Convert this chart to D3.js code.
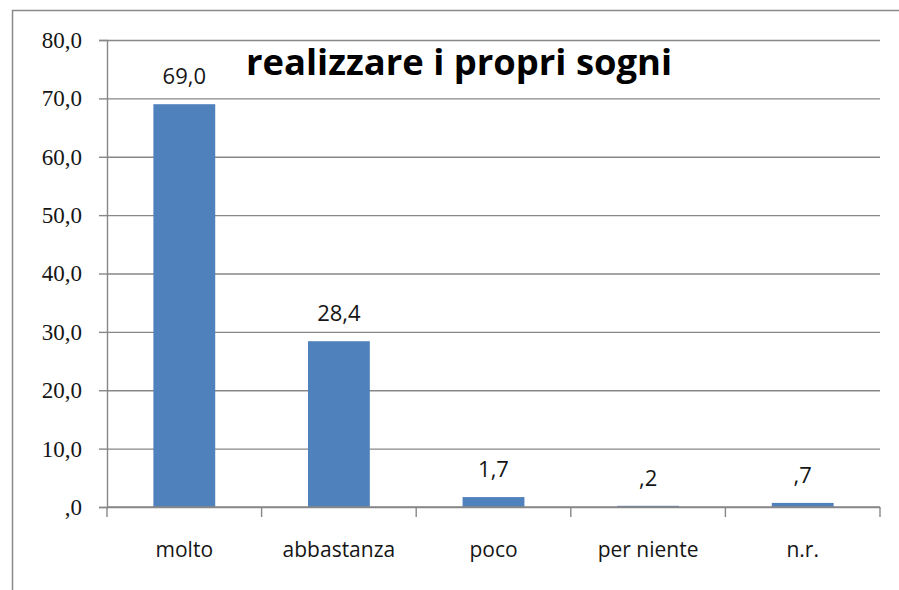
<!DOCTYPE html>
<html>
<head>
<meta charset="utf-8">
<script src="https://cdn.jsdelivr.net/npm/d3@7"></script>
<style>
  html, body { margin: 0; padding: 0; background: #fff; }
  svg { display: block; }
</style>
</head>
<body>
<div id="viz_container"></div>
<script>
// chart data
const categories = ["molto", "abbastanza", "poco", "per niente", "n.r."];
const values = [69.0, 28.4, 1.7, 0.2, 0.7];
const yTicks = [0, 10, 20, 30, 40, 50, 60, 70, 80];
const chartTitle = "realizzare i propri sogni";

// dimensions
const W = 899, H = 590;
const plot = { left: 107, right: 880, top: 40, bottom: 507 };

// italian style number, leading zero dropped (",2")
const fmt = d => d3.format(".1f")(d).replace(".", ",").replace(/^0,/, ",");

const svg = d3.select("#viz_container")
    .append("svg")
    .attr("width", W)
    .attr("height", H);

// outer frame
svg.append("rect")
    .attr("x", 12.5)
    .attr("y", 10.5)
    .attr("width", W + 20)
    .attr("height", H + 20)
    .attr("fill", "#fff")
    .attr("stroke", "#8a8a8a")
    .attr("stroke-width", 1.5);

// scales
const x = d3.scaleBand()
    .domain(categories)
    .range([plot.left, plot.right])
    .paddingInner(0.6)
    .paddingOuter(0.3);

const y = d3.scaleLinear()
    .domain([0, 80])
    .range([plot.bottom, plot.top]);

// gridlines + y axis
svg.append("g")
    .attr("transform", `translate(${plot.left}, 0)`)
    .call(d3.axisLeft(y).tickValues(yTicks).tickSize(plot.left - plot.right).tickFormat(""))
    .call(g => g.select(".domain").remove())
    .call(g => g.selectAll(".tick line").attr("stroke", "#878787").attr("stroke-width", 1.4));

svg.append("g")
    .attr("transform", `translate(${plot.left}, 0)`)
    .call(d3.axisLeft(y).tickValues(yTicks).tickSize(8).tickPadding(17).tickFormat(fmt))
    .call(g => g.select(".domain").attr("stroke", "#878787").attr("stroke-width", 1.4))
    .call(g => g.selectAll(".tick line").attr("stroke", "#878787").attr("stroke-width", 1.4))
    .call(g => g.selectAll(".tick text")
        .attr("fill", "#151515")
        .style("font-family", "'Liberation Serif', serif")
        .style("font-size", "23px"));

// bars
svg.append("g")
    .selectAll("rect")
    .data(values)
    .join("rect")
    .attr("x", (d, i) => x(categories[i]))
    .attr("y", d => y(d))
    .attr("width", x.bandwidth())
    .attr("height", d => y(0) - y(d))
    .attr("fill", "#4f81bd");

// x axis line
const step = x.step();
svg.append("g")
    .attr("transform", `translate(0, ${plot.bottom})`)
    .call(d3.axisBottom(x).tickSize(0).tickPadding(0).tickFormat(""))
    .call(g => g.select(".domain").attr("d", `M${plot.left},0H${plot.right}`)
        .attr("stroke", "#878787").attr("stroke-width", 1.4));

// x ticks at category boundaries
const boundaries = categories.map(c => x(c) - step * 0.3).concat([plot.right]);
svg.append("g")
    .selectAll("line")
    .data(boundaries)
    .join("line")
    .attr("x1", d => d)
    .attr("x2", d => d)
    .attr("y1", plot.bottom)
    .attr("y2", plot.bottom + 10)
    .attr("stroke", "#878787")
    .attr("stroke-width", 1.4);

// category labels
svg.append("g")
    .selectAll("text")
    .data(categories)
    .join("text")
    .attr("x", d => x(d) + x.bandwidth() / 2)
    .attr("y", 557)
    .attr("text-anchor", "middle")
    .attr("fill", "#151515")
    .style("font-family", "'Open Sans', sans-serif")
    .style("font-size", "21px")
    .text(d => d);

// value labels
svg.append("g")
    .selectAll("text")
    .data(values)
    .join("text")
    .attr("x", (d, i) => x(categories[i]) + x.bandwidth() / 2)
    .attr("y", d => y(d) - 20)
    .attr("text-anchor", "middle")
    .attr("fill", "#151515")
    .style("font-family", "'Open Sans', sans-serif")
    .style("font-size", "22px")
    .text(fmt);

// title, sized to fill its space
const title = svg.append("text")
    .attr("x", 246)
    .attr("y", 75)
    .attr("fill", "#000")
    .style("font-family", "'Open Sans', sans-serif")
    .style("font-weight", "bold")
    .style("font-size", "40px")
    .text(chartTitle);
const tw = title.node().getComputedTextLength();
title.style("font-size", (40 * 426 / tw).toFixed(1) + "px");
</script>
</body>
</html>
